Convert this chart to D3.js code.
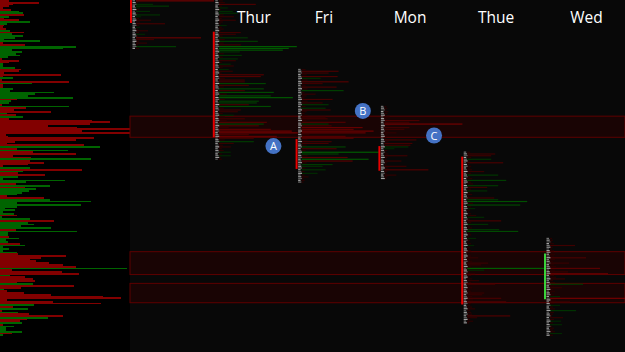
<!DOCTYPE html>
<html>
<head>
<meta charset="utf-8">
<script src="https://d3js.org/d3.v7.min.js"></script>
<style>
	body { margin: 0; background: #000; }
	svg { display: block; }
</style>
</head>
<body>
<div id="chart"></div>
<script>
// ----------------------------------------
// DATA

var days = ["Wed", "Thur", "Fri", "Mon", "Thue", "Wed"];
var tick = 0.25;
var priceTop = 4200;
var priceBottom = 4150;

// composite volume profile, one row per tick from the top (+ red / - green)
var compositeRows = [
	9, 39, 13, 9, 3, 11, -19, -23, 24, -9, 4, 19, -30, -7, 4, 3, 6, -10, 24, -12,
	-23, -15, -4, -40, 3, 25, -76, -63, -12, -22, -16, -20, -8, 2, 19, 9, -3, -3, -15, 21,
	19, 4, 61, 3, -13, 2, 69, -32, 3, 3, -13, -10, -54, -35, -28, -73, 17, -11, -9, 2,
	-69, 26, 14, 51, -7, 16, -23, 9, 92, 110, 90, 48, 77, 130, 82, 130, 6, 8, 94, 76,
	15, 7, 84, -100, 17, -68, 33, 76, 13, 31, -91, 30, 44, 28, 3, -30, 82, -23, 18, 45,
	-18, -3, -65, -26, 16, -50, 25, -36, -29, -22, -17, 7, 44, -50, -91, -17, -81, -17, -5, -15,
	-3, -14, 17, -2, -30, 54, -28, -34, -21, -51, 16, -77, -8, -8, 9, -19, -6, -8, 20, -25,
	-3, -9, -3, -17, 18, 66, 41, 30, 36, 49, 63, 76, -127, 12, 62, 79, -10, 25, 33, 35,
	17, -33, 74, 21, -4, 7, 24, 51, 103, 121, 7, 53, 101, -34, 13, -28, 2, -18, 29, 63,
	-48, 27, 20, -22, 3, -14, -6, -6, -22, 12, -3
];

// daily profiles, one row per tick from each day's high (+ red / - green)
var dayHighs = [4200, 4200, 4190.25, 4185, 4178.5, 4166.25];

var wedPrevRows = [
	78, 2, -17, -33, -4, 3, -14, 2, -24, -5, 3, 15, 4, 29, 3, -4, 2, 12, 3, -9,
	2, 65, 18, 3, 11, 2, -40, 3
];
var thurRows = [
	4, 6, 37, 3, -9, 2, -14, -19, 5, 15, 3, 17, 4, 2, -8, 3, 5, 2, 22, 17,
	4, -29, 6, -39, 5, 22, -78, -70, -64, -21, 5, -23, 4, -19, 17, 3, -12, 15, 4, -10,
	14, 3, 45, 42, 6, 26, 26, -47, 30, 5, -45, 26, -55, 8, -52, -74, 6, -40, -38, 30,
	-52, 5, 22, 19, 4, -15, 6, 26, 8, 48, -45, 40, 10, 52, 73, 79, 30, 58, 35, 6,
	-35, 15, 4, 12, 3, 5, -12, 3, -12, 2, 3
];
var friRows = [
	4, 37, 27, 5, 36, -19, 6, 47, 21, 4, 35, 6, -42, 3, 14, 5, 3, 31, 6, 21,
	-27, 4, -24, 29, 5, 3, 6, 24, 26, 5, 44, -27, 30, 61, 52, 72, 64, 8, 44, 52,
	6, 30, 27, 5, -44, 35, 4, -77, -37, 6, 46, -67, 51, 5, -31, -21, 4, -24, 3, -16,
	3, 7, 2, 3, 2
];
var monRows = [
	2, 3, 2, 4, 3, 2, 5, 3, 35, 25, 78, 6, 25, 20, 4, 12, 3, 5, 2, 32,
	4, 28, 26, -24, -10, 3, 2, 4, 23, 3, 2, 17, 3, 2, 22, 4, 44, 3, 2, 12,
	3, 2
];
var thueRows = [
	3, 28, 24, 4, -24, 3, 36, 2, 4, 3, 5, 17, 4, -31, 3, 5, -39, 4, 6, -31,
	20, 4, -20, 3, 5, 2, 27, -31, -60, 6, -53, 4, -8, 3, 2, 4, 9, -17, 3, 34,
	4, -21, 3, 5, -32, -51, 3, 4, 2, -9, 3, 2, 4, -7, 3, 2, 4, 3, 2, 4,
	11, 3, 5, 21, 14, 4, -77, -17, 3, 8, 4, 2, 5, 12, 4, 28, 3, 5, 2, 4,
	17, 15, 5, 34, 6, 39, 4, 3, 5, 8, 3, 4, 5, 43, 10, 3, 6, 2
];
var wedRows = [
	2, 3, 2, 4, 25, 3, 2, 4, 3, 5, 4, 36, 5, 3, 19, 4, 6, 50, 5, 18,
	58, 4, 6, 15, 3, 5, -33, 4, 12, 3, 5, 2, 4, -10, 78, 6, 20, 4, -10, 3,
	5, -26, 4, 3, 2, 13, 4, -11, 3, -12, 2, 4, 3, 5, -12, 3
];
var dayRows = [wedPrevRows, thurRows, friRows, monRows, thueRows, wedRows];

// value areas [high, low] and day direction
var valueAreas = [
	[4200, 4196.75], [4195.5, 4180.5], [4180.25, 4176],
	[4179.25, 4175.75], [4177.75, 4156.75], [4164, 4157.5]
];
var dayDirection = ["down", "down", "down", "down", "down", "up"];

// highlighted price zones [high, low]
var zones = [[4183.5, 4180.5], [4164.25, 4161], [4159.75, 4157]];

// annotations
var noteLabels = ["A", "B", "C"];
var noteDay = [1.72, 2.8, 3.66];
var notePrice = [4179.25, 4184.25, 4180.75];

// ----------------------------------------
// CHART

var width = 625;
var height = 352;
var split = 130;

var svg = d3.select("#chart").append("svg")
	.attr("width", width)
	.attr("height", height);

var yScale = d3.scaleLinear().domain([priceTop, priceBottom]).range([0, height]);
var rowH = yScale(priceTop - tick) - yScale(priceTop);
var xLeft = d3.scaleLinear().domain([0, 130]).range([0, split]);
var xDay = d3.scaleLinear().domain([0, days.length - 1]).range([131, 545]);
var xBar = d3.scaleLinear().domain([0, 80]).range([0, 80]);
var redShade = d3.scaleLinear().domain([0, 80]).range(["#260000", "#7a0000"]).clamp(true);
var greenShade = d3.scaleLinear().domain([0, 80]).range(["#001f00", "#006200"]).clamp(true);

// backgrounds
svg.append("rect").attr("width", width).attr("height", height).attr("fill", "#000");
svg.append("rect").attr("x", split).attr("width", width - split).attr("height", height).attr("fill", "#080808");

// composite profile
svg.append("g").attr("shape-rendering", "crispEdges")
	.selectAll("rect").data(compositeRows).enter().append("rect")
	.attr("x", 0)
	.attr("y", function (d, i) { return yScale(priceTop - i * tick); })
	.attr("width", function (d) { return xLeft(Math.abs(d)); })
	.attr("height", rowH)
	.attr("fill", function (d) { return d > 0 ? "#820000" : "#006400"; });

// zones
svg.append("g").selectAll("rect").data(zones).enter().append("rect")
	.attr("x", split)
	.attr("y", function (d) { return yScale(d[0]); })
	.attr("width", width - split)
	.attr("height", function (d) { return yScale(d[1]) - yScale(d[0]); })
	.attr("fill", "#190404")
	.attr("stroke", "#5e0000")
	.attr("stroke-width", 1);

// daily profiles
dayRows.forEach(function (rows, di) {
	var g = svg.append("g");
	var x0 = xDay(di);
	var high = dayHighs[di];

	// volume bars
	g.selectAll("rect.bar").data(rows).enter().append("rect")
		.attr("class", "bar")
		.attr("x", x0 + 5)
		.attr("y", function (d, i) { return yScale(high - i * tick) + 0.3; })
		.attr("width", function (d) { return xBar(Math.abs(d)); })
		.attr("height", rowH * 0.65)
		.attr("fill", function (d) { return d > 0 ? redShade(d) : greenShade(-d); });

	// letter column
	g.selectAll("rect.tpo").data(rows).enter().append("rect")
		.attr("class", "tpo")
		.attr("x", x0 + 1.5)
		.attr("y", function (d, i) { return yScale(high - i * tick) + 0.2; })
		.attr("width", function (d, i) { return 2.5 + (i * 7 % 3) * 0.7; })
		.attr("height", rowH * 0.65)
		.attr("fill", function (d, i) { return ["#787878", "#a2a2a2", "#5c5c5c", "#b4b4b4"][i % 4]; });

	// value area
	g.append("line")
		.attr("x1", x0).attr("x2", x0)
		.attr("y1", yScale(valueAreas[di][0]))
		.attr("y2", yScale(valueAreas[di][1]))
		.attr("stroke", dayDirection[di] == "up" ? "#3ad13a" : "#e80000")
		.attr("stroke-width", 2);
});

// day labels
var labelAt = [1.485, 2.33, 3.37, 4.41, 5.5];
svg.append("g").selectAll("text").data(days.slice(1)).enter().append("text")
	.attr("x", function (d, i) { return xDay(labelAt[i]); })
	.attr("y", 23)
	.attr("text-anchor", "middle")
	.attr("fill", "#ffffff")
	.attr("font-family", "Open Sans, sans-serif")
	.attr("font-size", 15.5)
	.text(function (d) { return d; });

// annotations
var notes = svg.append("g").selectAll("g").data(noteLabels).enter().append("g")
	.attr("transform", function (d, i) { return "translate(" + xDay(noteDay[i]) + "," + yScale(notePrice[i]) + ")"; });
notes.append("circle").attr("r", 8).attr("fill", "#4472c4");
notes.append("text")
	.attr("text-anchor", "middle")
	.attr("dy", 4)
	.attr("fill", "#ffffff")
	.attr("font-family", "Open Sans, sans-serif")
	.attr("font-size", 11)
	.text(function (d) { return d; });
</script>
</body>
</html>
